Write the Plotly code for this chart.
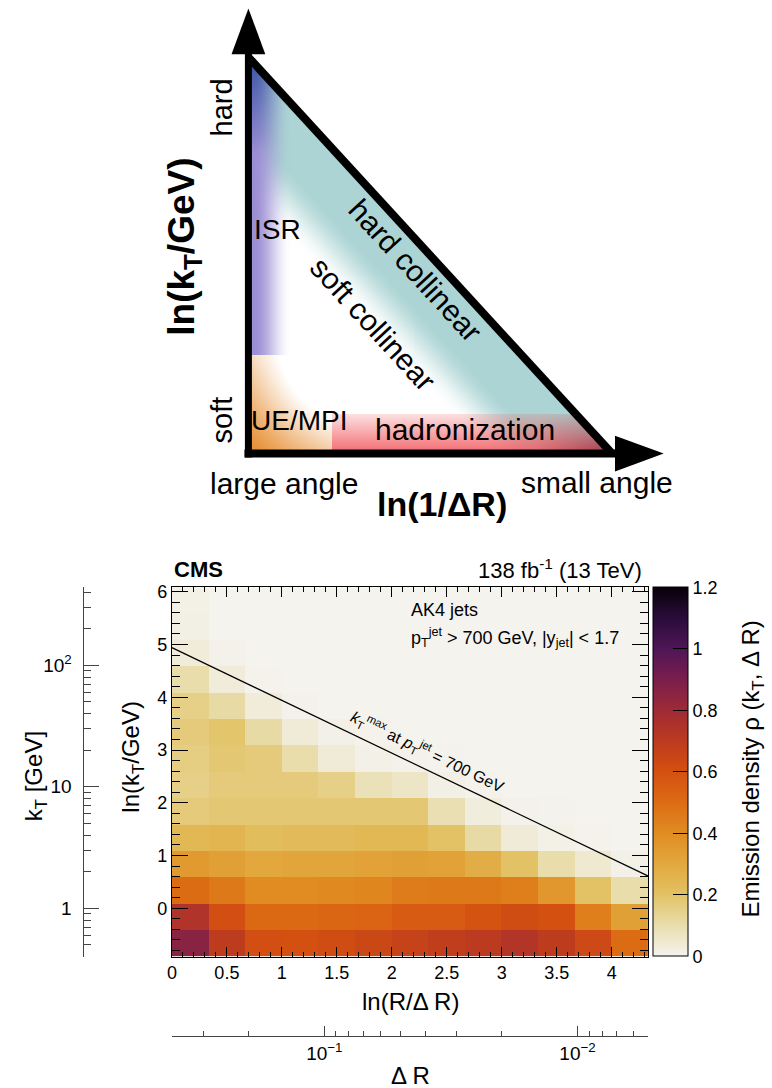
import base64
import math
import struct
import zlib

import numpy as np
import plotly.graph_objects as go

W, H = 772, 1088
FONT = "Liberation Sans, Arial, Helvetica, sans-serif"

# ---------------- emission density histogram ----------------
ln_r_over_dr_edges = [0.0, 0.333, 0.667, 1.0, 1.333, 1.667, 2.0, 2.333,
                      2.667, 3.0, 3.333, 3.667, 4.0, 4.333]
ln_kt_edges = [-0.916, -0.416, 0.084, 0.584, 1.084, 1.584, 2.084, 2.584,
               3.084, 3.584, 4.084, 4.584, 5.084, 5.584, 6.084]

# rows: ln(kT/GeV) bins from bottom to top, columns: ln(R/dR) bins
density = [
    [0.86, 0.69, 0.61, 0.60, 0.62, 0.64, 0.66, 0.68, 0.70, 0.73, 0.69, 0.63, 0.50],
    [0.74, 0.61, 0.51, 0.51, 0.52, 0.53, 0.56, 0.56, 0.59, 0.62, 0.60, 0.44, 0.33],
    [0.50, 0.46, 0.40, 0.40, 0.41, 0.42, 0.45, 0.46, 0.46, 0.44, 0.36, 0.20, 0.10],
    [0.35, 0.33, 0.30, 0.31, 0.31, 0.32, 0.33, 0.32, 0.28, 0.20, 0.10, 0.045, 0.01],
    [0.24, 0.25, 0.22, 0.23, 0.23, 0.24, 0.24, 0.20, 0.11, 0.035, 0.012, 0.004, 0.0],
    [0.17, 0.18, 0.18, 0.18, 0.18, 0.18, 0.18, 0.09, 0.025, 0.008, 0.003, 0.0, 0.0],
    [0.15, 0.17, 0.17, 0.17, 0.15, 0.08, 0.06, 0.015, 0.004, 0.002, 0.0, 0.0, 0.0],
    [0.16, 0.18, 0.17, 0.10, 0.035, 0.01, 0.008, 0.003, 0.001, 0.0, 0.0, 0.0, 0.0],
    [0.17, 0.19, 0.11, 0.035, 0.01, 0.004, 0.002, 0.0, 0.0, 0.0, 0.0, 0.0, 0.0],
    [0.15, 0.11, 0.03, 0.008, 0.002, 0.0, 0.0, 0.0, 0.0, 0.0, 0.0, 0.0, 0.0],
    [0.10, 0.03, 0.004, 0.001, 0.0, 0.0, 0.0, 0.0, 0.0, 0.0, 0.0, 0.0, 0.0],
    [0.03, 0.008, 0.001, 0.0, 0.0, 0.0, 0.0, 0.0, 0.0, 0.0, 0.0, 0.0, 0.0],
    [0.015, 0.002, 0.0, 0.0, 0.0, 0.0, 0.0, 0.0, 0.0, 0.0, 0.0, 0.0, 0.0],
    [0.012, 0.001, 0.0, 0.0, 0.0, 0.0, 0.0, 0.0, 0.0, 0.0, 0.0, 0.0, 0.0],
]

# kT^max boundary for pT^jet = 700 GeV
kt_max_line_x = [0.0, 4.333]
kt_max_line_y = [4.94, 0.61]

R_JET = 0.4
density_ticks = [0, 0.2, 0.4, 0.6, 0.8, 1.0, 1.2]
density_ticktext = ["0", "0.2", "0.4", "0.6", "0.8", "1", "1.2"]
kt_major = [1, 10, 100]
kt_major_text = ["1", "10", "10<sup>2</sup>"]
kt_minor = [0.5, 0.6, 0.7, 0.8, 0.9, 2, 3, 4, 5, 6, 7, 8, 9,
            20, 30, 40, 50, 60, 70, 80, 90, 200, 300, 400]
dr_major = [0.1, 0.01]
dr_major_text = ["10<sup>\u22121</sup>", "10<sup>\u22122</sup>"]
dr_minor = [0.4, 0.3, 0.2, 0.09, 0.08, 0.07, 0.06, 0.05, 0.04, 0.03, 0.02,
            0.009, 0.008, 0.007, 0.006]

colorscale = [
    [0.0, "#f4f3ee"], [0.0833, "#e9ddac"], [0.1667, "#e2c264"],
    [0.25, "#e2a83e"], [0.3333, "#e08c22"], [0.4167, "#dc6c14"],
    [0.5, "#d45010"], [0.5833, "#bc3a20"], [0.6667, "#9e2a36"],
    [0.75, "#7a1e4c"], [0.8333, "#4e1656"], [0.9167, "#2a0c3a"],
    [1.0, "#080008"],
]


def fx(px):
    return px / W


def fy(py):
    return 1 - py / H


# plot frame in pixels
PX0, PX1 = 168.0, 647.5
PY0, PY1 = 585.0, 956.0

# ---------------- schematic Lund plane (pixel coordinates) ----------------
A = (245.0, 52.0)    # top vertex
B = (245.0, 451.0)   # corner
C = (611.0, 451.0)   # right vertex


def smooth(t):
    t = np.clip(t, 0.0, 1.0)
    return t * t * (3 - 2 * t)


def lund_regions_png():
    xs = np.arange(245, 611) + 0.5
    ys = np.arange(51, 451) + 0.5
    X, Y = np.meshgrid(xs, ys)
    rgb = np.full(X.shape + (3,), 255.0)

    def over(col, a):
        nonlocal rgb
        col = np.asarray(col, dtype=float)
        if col.ndim == 1:
            col = np.broadcast_to(col, rgb.shape)
        rgb = rgb * (1 - a[..., None]) + col * a[..., None]

    sx, sy = C[0] - A[0], C[1] - A[1]
    norm = math.hypot(sx, sy)
    d = ((Y - A[1]) * sx - (X - A[0]) * sy) / norm
    inside = d >= -1

    # hard collinear band along the hypotenuse
    over((172, 212, 212), smooth((92 - d) / 48))

    # ISR band along the vertical axis, bluish towards the top
    isr = (Y < 352).astype(float)
    b = np.clip((150 - Y) / 90, 0, 1)[..., None]
    lav = np.array([156, 142, 212], float)
    blue = np.array([64, 88, 168], float)
    over(lav * (1 - b) + blue * b, smooth((288 - X) / 38) * isr)

    # UE/MPI corner
    ue = ((X < 329) & (Y > 352)).astype(float)
    dx, dy = X - 245, 451 - Y
    r = np.hypot(dx, dy)
    a_ue = np.clip(1 - r / 150, 0, 1) * np.clip(1 - dx * dy / 3000, 0, 1)
    over((230, 138, 42), a_ue * ue)

    # hadronization strip
    had = ((X >= 329) & (Y > 412)).astype(float)
    v = np.clip((Y - 412) / 39, 0, 1)
    w = (np.clip((X - 535) / 75, 0, 1) * 0.85)[..., None]
    red = np.array([242, 90, 95], float) * (1 - w) + np.array([150, 30, 50], float) * w
    over(red, (0.18 + 0.72 * v) * had)

    alpha = np.where(inside, 255, 0)
    img = np.dstack([np.clip(rgb, 0, 255), alpha]).astype(np.uint8)

    h, wdt = img.shape[:2]
    raw = b"".join(b"\x00" + img[j].tobytes() for j in range(h))

    def chunk(tag, data):
        return (struct.pack(">I", len(data)) + tag + data
                + struct.pack(">I", zlib.crc32(tag + data) & 0xFFFFFFFF))

    png = (b"\x89PNG\r\n\x1a\n"
           + chunk(b"IHDR", struct.pack(">IIBBBBB", wdt, h, 8, 6, 0, 0, 0))
           + chunk(b"IDAT", zlib.compress(raw, 9))
           + chunk(b"IEND", b""))
    return "data:image/png;base64," + base64.b64encode(png).decode()


fig = go.Figure()

fig.add_trace(go.Image(source=lund_regions_png(), x0=245.5, y0=51.5, dx=1, dy=1,
                       xaxis="x3", yaxis="y3", hoverinfo="skip"))

fig.add_trace(go.Heatmap(
    x=ln_r_over_dr_edges, y=ln_kt_edges, z=density,
    zmin=0, zmax=1.2, colorscale=colorscale, hoverinfo="skip",
    colorbar=dict(
        x=fx(652), xanchor="left", xpad=0,
        y=fy((PY0 + PY1) / 2), yanchor="middle", ypad=0,
        len=(PY1 - PY0) / H, lenmode="fraction",
        thickness=35, thicknessmode="pixels",
        outlinewidth=1, outlinecolor="black",
        ticks="inside", ticklen=15, tickcolor="black",
        tickvals=density_ticks, ticktext=density_ticktext,
        tickfont=dict(size=18, family=FONT),
    ),
))

fig.add_trace(go.Scatter(x=kt_max_line_x, y=kt_max_line_y, mode="lines",
                         line=dict(color="black", width=1.2), hoverinfo="skip"))

# carrier traces for the secondary kT and dR scales
kt_lo, kt_hi = math.exp(ln_kt_edges[0]), math.exp(ln_kt_edges[-1])
dr_lo = R_JET * math.exp(-ln_r_over_dr_edges[-1])
fig.add_trace(go.Scatter(x=[0.5, 0.5], y=[kt_lo, kt_hi], xaxis="x2", yaxis="y2",
                         mode="markers", marker=dict(opacity=0), hoverinfo="skip"))
fig.add_trace(go.Scatter(x=[R_JET, dr_lo], y=[0.5, 0.5], xaxis="x4", yaxis="y4",
                         mode="markers", marker=dict(opacity=0), hoverinfo="skip"))

axis_common = dict(showgrid=False, zeroline=False, showline=True, linecolor="black",
                   linewidth=1, tickcolor="black", tickwidth=1,
                   tickfont=dict(size=18, family=FONT, color="black"))
side_axis = {**axis_common, "linecolor": "#444", "tickcolor": "#444",
             "tickfont": dict(size=19, family=FONT, color="black")}

fig.update_layout(
    width=W, height=H, margin=dict(l=0, r=0, t=0, b=0),
    paper_bgcolor="white", plot_bgcolor="white", showlegend=False,
    font=dict(family=FONT, color="black"),
    xaxis=dict(domain=[fx(PX0), fx(PX1)], range=[0, 4.333], anchor="y",
               mirror="ticks", ticks="inside", ticklen=10, dtick=0.5, tick0=0,
               minor=dict(ticks="inside", ticklen=5, dtick=0.1, tickcolor="black"),
               **axis_common),
    yaxis=dict(domain=[fy(PY1), fy(PY0)], range=[ln_kt_edges[0], ln_kt_edges[-1]],
               anchor="x", mirror="ticks", ticks="inside", ticklen=16, dtick=1, tick0=0,
               minor=dict(ticks="inside", ticklen=8, dtick=0.2, tick0=0, tickcolor="black"),
               **axis_common),
    xaxis2=dict(domain=[fx(79), fx(120)], range=[0, 1], visible=False),
    yaxis2=dict(domain=[fy(PY1), fy(PY0)], type="log", anchor="free", position=fx(79),
                side="left", range=[math.log10(kt_lo), math.log10(kt_hi)],
                ticks="inside", ticklen=15, tickmode="array", ticklabelstandoff=8,
                tickvals=kt_major, ticktext=kt_major_text,
                minor=dict(ticks="inside", ticklen=7, tickmode="array",
                           tickvals=kt_minor, tickcolor="#444"),
                **side_axis),
    xaxis3=dict(domain=[0, 1], range=[0, W], visible=False, fixedrange=True),
    yaxis3=dict(domain=[fy(520), 1], range=[520, 0], visible=False, fixedrange=True,
                scaleanchor="x3", scaleratio=1),
    xaxis4=dict(domain=[fx(PX0), fx(PX1)], type="log", anchor="y4", side="bottom",
                range=[math.log10(R_JET), math.log10(dr_lo)],
                ticks="inside", ticklen=10, tickmode="array",
                tickvals=dr_major, ticktext=dr_major_text,
                minor=dict(ticks="inside", ticklen=5, tickmode="array",
                           tickvals=dr_minor, tickcolor="#444"),
                **side_axis),
    yaxis4=dict(domain=[fy(1036), fy(1035)], range=[0, 1], visible=False),
)

# schematic outline and arrows
shapes = [
    dict(type="path", path="M 245 455 L 245 46", line=dict(color="black", width=7)),
    dict(type="path", path="M 241 451 L 617 451", line=dict(color="black", width=8)),
    dict(type="path", path=f"M {A[0]} {A[1]} L {C[0]} {C[1]}", line=dict(color="black", width=8)),
    dict(type="path", path="M 245 3 L 262 49 L 228 49 Z", fillcolor="black",
         line=dict(width=0)),
    dict(type="path", path="M 663 451 L 614 433 L 614 469 Z", fillcolor="black",
         line=dict(width=0)),
]
for s in shapes:
    s.update(xref="x3", yref="y3", layer="above")
fig.update_layout(shapes=shapes)

annotations = []


def lund_text(x, y, text, size=29, angle=0, bold=False):
    if bold:
        text = f"<b>{text}</b>"
    annotations.append(dict(x=x, y=y, xref="x3", yref="y3", text=text, showarrow=False,
                            textangle=angle, xanchor="center", yanchor="middle",
                            font=dict(size=size, family=FONT, color="black")))


hyp_angle = math.degrees(math.atan2(C[1] - A[1], C[0] - A[0]))
lund_text(218, 103, "hard", angle=-90)
lund_text(218, 417, "soft", angle=-90)
lund_text(274, 225, "ISR", size=28)
lund_text(413, 267, "hard collinear", size=30, angle=hyp_angle)
lund_text(370, 320, "soft collinear", size=30, angle=hyp_angle)
lund_text(296, 418, "UE/MPI", size=28)
lund_text(463, 427, "hadronization", size=30)
lund_text(281, 481, "large angle", size=30)
lund_text(596, 480, "small angle", size=30)
lund_text(440, 502, "ln(1/\u0394R)", size=34, bold=True)
lund_text(180, 243, "ln(k<sub>T</sub>/GeV)", size=37, angle=-90, bold=True)


def paper_text(x, y, text, size, angle=0, xanchor="center", bold=False):
    if bold:
        text = f"<b>{text}</b>"
    annotations.append(dict(x=fx(x), y=fy(y), xref="paper", yref="paper", text=text,
                            showarrow=False, textangle=angle, xanchor=xanchor,
                            yanchor="middle",
                            font=dict(size=size, family=FONT, color="black")))


paper_text(168, 567, "CMS", 22, xanchor="left", bold=True)
paper_text(643, 567, "138 fb<sup>-1</sup> (13 TeV)", 22, xanchor="right")
paper_text(407, 608, "AK4 jets", 18, xanchor="left")
paper_text(407, 635, "p<sub>T</sub><sup>jet</sup> &gt; 700 GeV, |y<sub>jet</sub>| &lt; 1.7",
           18, xanchor="left")
line_angle = math.degrees(math.atan(((PY1 - PY0) / 7.0) / ((PX1 - PX0) / 4.333)))
paper_text(426, 750, "<i>k</i><sub>T</sub><sup>max</sup> at <i>p</i><sub>T</sub>"
           "<sup>jet</sup> = 700 GeV", 16, angle=line_angle)
paper_text((PX0 + PX1) / 2, 1001, "ln(R/\u0394 R)", 24)
paper_text((PX0 + PX1) / 2, 1075, "\u0394 R", 24)
paper_text(128, 755, "ln(k<sub>T</sub>/GeV)", 24, angle=-90)
paper_text(31, 775, "k<sub>T</sub> [GeV]", 24, angle=-90)
paper_text(752, 768, "Emission density \u03c1 (k<sub>T</sub>, \u0394 R)", 24, angle=-90)

fig.update_layout(annotations=annotations)

fig.write_html("out.html")
